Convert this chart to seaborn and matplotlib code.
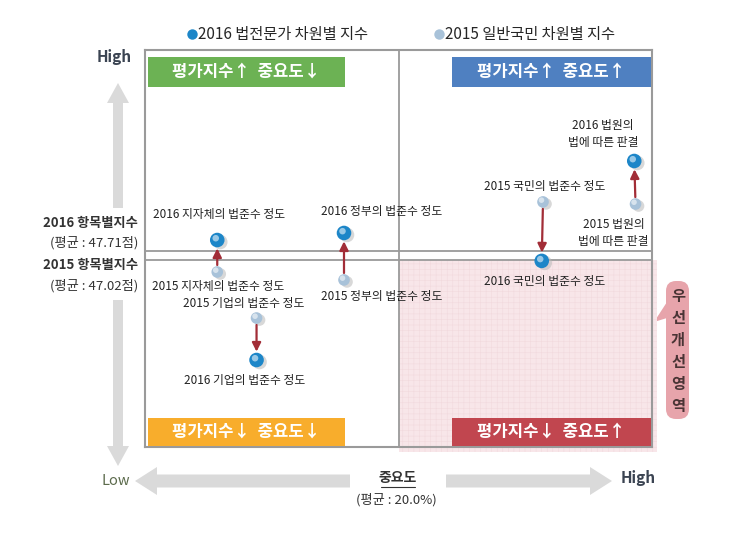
import matplotlib
matplotlib.use('Agg')
import matplotlib.pyplot as plt
import matplotlib.transforms as mtransforms
from matplotlib.patches import Rectangle, FancyBboxPatch, FancyArrow, Polygon
from matplotlib.lines import Line2D
import seaborn as sns
import pandas as pd

# ---------------- data ----------------
items = ['지자체', '정부', '기업', '국민', '법원']
importance_2015 = [5.7, 15.7, 8.8, 31.4, 38.7]
importance_2016 = [5.7, 15.7, 8.8, 31.3, 38.6]
index_2015 = [46.10, 45.49, 42.57, 51.47, 51.31]
index_2016 = [48.55, 49.09, 39.35, 46.95, 54.61]
labels_2015 = ['2015 지자체의 법준수 정도', '2015 정부의 법준수 정도',
               '2015 기업의 법준수 정도', '2015 국민의 법준수 정도',
               '2015 법원의\n법에 따른 판결']
labels_2016 = ['2016 지자체의 법준수 정도', '2016 정부의 법준수 정도',
               '2016 기업의 법준수 정도', '2016 국민의 법준수 정도',
               '2016 법원의\n법에 따른 판결']
mean_index_2016 = 47.71
mean_index_2015 = 47.02
mean_importance = 20.0
legend_labels = ['2016 법전문가 차원별 지수', '2015 일반국민 차원별 지수']
quadrant_titles = ['평가지수↑  중요도↓', '평가지수↑  중요도↑',
                   '평가지수↓  중요도↓', '평가지수↓  중요도↑']
callout_text = '우선개선영역'

# ---------------- style ----------------
sns.set_theme(style='white')
plt.rcParams['font.family'] = ['Noto Sans CJK KR', 'DejaVu Sans']
plt.rcParams['hatch.linewidth'] = 0.4

W, H = 730, 550
fig = plt.figure(figsize=(W / 100, H / 100), dpi=100)

# overlay (pixel coordinates) for decorations
ov = fig.add_axes([0, 0, 1, 1], zorder=0)
ov.set_xlim(0, W)
ov.set_ylim(H, 0)
ov.axis('off')

ax = fig.add_axes([145 / W, 103 / H, 507 / W, 397 / H], zorder=1)
ax.patch.set_alpha(0)
ax.set_xlim(0, 40)
ax.set_ylim(32.68, 63.12)
ax.set_xticks([])
ax.set_yticks([])
for s in ax.spines.values():
    s.set_color('#9a9a9a')
    s.set_linewidth(1.5)

# priority region (pink)
ax.add_patch(Rectangle((mean_importance, 32.3), 40.4 - mean_importance,
                       mean_index_2015 - 32.3, facecolor='#f8e6e9',
                       edgecolor='#f2dade', linewidth=0, hatch='+++',
                       clip_on=False, zorder=0))

# mean lines
ax.axvline(mean_importance, color='#9a9a9a', lw=1.3, zorder=1)
ax.axhline(mean_index_2016, color='#9a9a9a', lw=1.3, zorder=1)
ax.axhline(mean_index_2015, color='#9a9a9a', lw=1.3, zorder=1)

# quadrant headers
quad_boxes = [(0.006, 0.907, 0.389, 0.0756, '#6cb254'),
              (0.6055, 0.907, 0.3925, 0.0756, '#4f80c1'),
              (0.006, 0.0025, 0.389, 0.0705, '#f8ad2c'),
              (0.6055, 0.0025, 0.3925, 0.0705, '#c1464f')]
for (x0, y0, w, h, c), t in zip(quad_boxes, quadrant_titles):
    ax.add_patch(Rectangle((x0, y0), w, h, transform=ax.transAxes,
                           facecolor=c, edgecolor='none', zorder=3))
    ax.text(x0 + w / 2, y0 + h / 2, t, transform=ax.transAxes, ha='center',
            va='center', color='white', fontsize=12, fontweight='bold', zorder=4)

# data frame
df = pd.DataFrame({
    'item': items * 2,
    'importance': importance_2016 + importance_2015,
    'index': index_2016 + index_2015,
    'year': ['2016'] * len(items) + ['2015'] * len(items),
})

c16, c15 = '#1d86c8', '#a8c2d9'
# shadows
shadow_tr = mtransforms.offset_copy(ax.transData, fig=fig, x=3, y=-2, units='dots')
ax.scatter(df['importance'], df['index'], s=[110] * 5 + [70] * 5,
           color='#b8b8b8', alpha=0.55, linewidth=0, transform=shadow_tr, zorder=4)

# arrows 2015 -> 2016
for x15, y15, x16, y16 in zip(importance_2015, index_2015, importance_2016, index_2016):
    ax.annotate('', xy=(x16, y16), xytext=(x15, y15),
                arrowprops=dict(arrowstyle='-|>', color='#a22d37', lw=1.6,
                                shrinkA=5, shrinkB=6, mutation_scale=13),
                zorder=5)

sns.scatterplot(data=df, x='importance', y='index', hue='year',
                palette={'2016': c16, '2015': c15}, size='year',
                sizes={'2016': 110, '2015': 70}, edgecolor='none',
                legend=False, ax=ax, zorder=6)
ax.set_xlabel('')
ax.set_ylabel('')

# highlights
hl_tr = mtransforms.offset_copy(ax.transData, fig=fig, x=-1.5, y=1.8, units='dots')
ax.scatter(df['importance'], df['index'], s=[22] * 5 + [16] * 5,
           color='white', alpha=0.55, linewidth=0, transform=hl_tr, zorder=7)

# point labels
off16 = [(2, 26), (38, 21), (-12, -20), (3, -21), (-31, 27)]
off15 = [(1, -15), (38, -17), (-13, 15), (2, 15), (-22, -29)]
for xs, ys, labs, offs in [(importance_2016, index_2016, labels_2016, off16),
                           (importance_2015, index_2015, labels_2015, off15)]:
    for x, y, lab, (dx, dy) in zip(xs, ys, labs, offs):
        ax.annotate(lab, xy=(x, y), xytext=(dx, dy), textcoords='offset pixels',
                    ha='center', va='center', fontsize=8.5, color='#222222',
                    linespacing=1.4, zorder=8)

# legend
handles = [Line2D([], [], marker='o', linestyle='none', markersize=7.5,
                  markerfacecolor=c16, markeredgecolor='none'),
           Line2D([], [], marker='o', linestyle='none', markersize=7.5,
                  markerfacecolor=c15, markeredgecolor='none')]
ax.legend(handles, legend_labels, loc='lower center', bbox_to_anchor=(0.505, 1.0),
          ncol=2, frameon=False, fontsize=11, handletextpad=0.05,
          handlelength=0.7, columnspacing=4.3, borderaxespad=0.05)

# ---------------- decorations (pixel overlay) ----------------
gray = '#dadada'
ov.add_patch(FancyArrow(118, 208, 0, -125, width=10, head_width=22,
                        head_length=20, length_includes_head=True,
                        color=gray, linewidth=0))
ov.add_patch(FancyArrow(118, 300, 0, 166, width=10, head_width=22,
                        head_length=20, length_includes_head=True,
                        color=gray, linewidth=0))
ov.add_patch(FancyArrow(350, 481, -215, 0, width=13, head_width=28,
                        head_length=22, length_includes_head=True,
                        color=gray, linewidth=0))
ov.add_patch(FancyArrow(446, 481, 166, 0, width=13, head_width=28,
                        head_length=22, length_includes_head=True,
                        color=gray, linewidth=0))

ov.text(132, 57, 'High', ha='right', va='center', fontsize=11,
        fontweight='bold', color='#3b4452')
ov.text(138, 223, '2016 항목별지수', ha='right', va='center', fontsize=9.5,
        fontweight='bold', color='#333333')
ov.text(138, 243, f'(평균 : {mean_index_2016:.2f}점)', ha='right', va='center',
        fontsize=9.5, color='#333333')
ov.text(138, 265, '2015 항목별지수', ha='right', va='center', fontsize=9.5,
        fontweight='bold', color='#333333')
ov.text(138, 286, f'(평균 : {mean_index_2015:.2f}점)', ha='right', va='center',
        fontsize=9.5, color='#333333')

ov.text(116, 481, 'Low', ha='center', va='center', fontsize=10.5, color='#5c6b4c')
ov.text(638, 478, 'High', ha='center', va='center', fontsize=11,
        fontweight='bold', color='#3b4452')
ov.text(398, 478, '중요도', ha='center', va='center', fontsize=10,
        fontweight='bold', color='#333333')
ov.plot([381, 415], [487, 487], color='#333333', lw=0.8)
ov.text(396, 500, f'(평균 : {mean_importance:.1f}%)', ha='center', va='center',
        fontsize=9.5, color='#333333')

# callout
ov.add_patch(Polygon([(654, 322), (667, 302), (667, 318)], closed=True,
                     facecolor='#e7a4ab', edgecolor='none'))
ov.add_patch(FancyBboxPatch((666, 281), 23, 138, boxstyle='round,pad=0,rounding_size=10',
                            facecolor='#e7a4ab', edgecolor='none'))
for i, ch in enumerate(callout_text):
    ov.text(678, 296 + i * 22, ch, ha='center', va='center', fontsize=11,
            fontweight='bold', color='#4a3435')

fig.savefig('out.png', dpi=100)
